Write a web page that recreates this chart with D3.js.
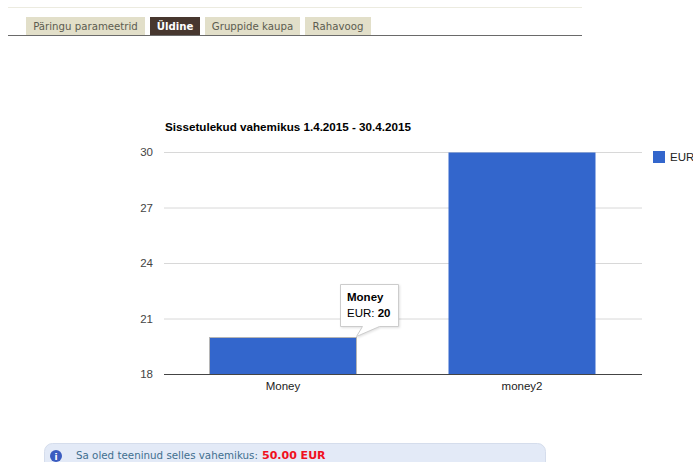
<!DOCTYPE html>
<html><head><meta charset="utf-8">
<script src="https://cdn.jsdelivr.net/npm/d3@7/dist/d3.min.js"></script>
<style>html,body{margin:0;padding:0;background:#fff;overflow:hidden}svg{display:block}</style>
</head><body><svg id="c" width="693" height="462"></svg>
<script>
const categories = ["Money", "money2"];
const eurValues = [20, 30];
const yTicks = [18, 21, 24, 27, 30];
const tabLabels = ["Päringu parameetrid", "Üldine", "Gruppide kaupa", "Rahavoog"];
const tabEdges = [[26,145],[150,200],[205,300],[305,371]];
const activeTab = 1;
const seriesName = "EUR";
const titleText = "Sissetulekud vahemikus 1.4.2015 - 30.4.2015";

const svg = d3.select("#c");
const arial = "Arial, 'Liberation Sans', sans-serif";
const verdana = "Verdana, 'DejaVu Sans', sans-serif";

svg.append("line").attr("x1",8).attr("x2",582).attr("y1",7.5).attr("y2",7.5).attr("stroke","#ecebe0");
tabLabels.forEach((t,i)=>{
  const [a,b]=tabEdges[i];
  svg.append("rect").attr("x",a).attr("y",17).attr("width",b-a).attr("height",18).attr("fill",i===activeTab?"#47372f":"#e2dfc9");
  svg.append("text").attr("x",(a+b)/2).attr("y",30).attr("text-anchor","middle")
    .attr("font-family",verdana).attr("font-size",10.2).attr("font-weight",i===activeTab?"bold":"normal")
    .attr("fill",i===activeTab?"#fff":"#5c5c50").text(t);
});
svg.append("line").attr("x1",8).attr("x2",582).attr("y1",35.5).attr("y2",35.5).attr("stroke","#6a6a6a");

const x = d3.scaleBand().domain(categories).range([163.5,641.5]).paddingInner(0.385).paddingOuter(0.1925);
const y = d3.scaleLinear().domain([18,30]).range([374,152]);

svg.append("text").attr("x",165).attr("y",131).attr("font-family",arial).attr("font-size",11.65).attr("font-weight","bold").attr("fill","#000").text(titleText);

const yAxis = d3.axisLeft(y).tickValues(yTicks).tickSize(-478).tickPadding(11);
const gy = svg.append("g").attr("transform","translate(164,0)").call(yAxis);
gy.select(".domain").remove();
gy.selectAll(".tick line").attr("stroke","#d8d8d8");
gy.selectAll(".tick text").attr("font-family",arial).attr("font-size",11.5).attr("fill","#444");

svg.selectAll("rect.bar").data(categories).join("rect").attr("class","bar")
  .attr("transform","translate(0,0.5)")
  .attr("x",d=>x(d)).attr("width",x.bandwidth())
  .attr("y",(d,i)=>y(eurValues[i])).attr("height",(d,i)=>y(18)-y(eurValues[i]))
  .attr("fill","#3366cc")
  .attr("stroke",(d,i)=>i===0?"#b5b5b5":"none").attr("stroke-width",1);

const xAxis = d3.axisBottom(x).tickSize(0).tickPadding(8);
const gx = svg.append("g").attr("transform","translate(0,374)").call(xAxis);
gx.select(".domain").attr("stroke","#444");
gx.selectAll(".tick text").attr("font-family",arial).attr("font-size",11.5).attr("fill","#222");

// legend
svg.append("rect").attr("x",653).attr("y",151).attr("width",12).attr("height",12).attr("fill","#3366cc");
svg.append("text").attr("x",670).attr("y",161).attr("font-family",arial).attr("font-size",11.5).attr("fill","#222").text(seriesName);

// tooltip
const bx = x(categories[0])+x.bandwidth(), by = y(eurValues[0]);
svg.append("path").attr("d",`M340.5,284.5H398.5V326.5H${bx+23}L${bx},${by-0.5}L${bx+6},326.5H340.5Z`)
  .attr("fill","#fff").attr("stroke","#ccc").style("filter","drop-shadow(1px 1px 1px rgba(0,0,0,.12))");
svg.append("text").attr("x",347).attr("y",301).attr("font-family",arial).attr("font-size",11.5).attr("font-weight","bold").attr("fill","#000").text(categories[0]);
const tt=svg.append("text").attr("x",347).attr("y",317).attr("font-family",arial).attr("font-size",11.5).attr("fill","#000");
tt.append("tspan").text(seriesName+": ");
tt.append("tspan").attr("font-weight","bold").text(eurValues[0]);

// info box
svg.append("rect").attr("x",44.5).attr("y",443.5).attr("width",501).attr("height",30).attr("rx",8).attr("fill","#e3eaf7").attr("stroke","#d5ddec");
svg.append("circle").attr("cx",56).attr("cy",456).attr("r",6).attr("fill","#3a5cc0");
svg.append("text").attr("x",56).attr("y",459.5).attr("text-anchor","middle").attr("font-family",verdana).attr("font-size",9).attr("font-weight","bold").attr("fill","#fff").text("i");
svg.append("text").attr("x",76).attr("y",459).attr("font-family",verdana).attr("font-size",10.3).attr("fill","#3f6f8f").text("Sa oled teeninud selles vahemikus:");
svg.append("text").attr("x",262).attr("y",459).attr("font-family",verdana).attr("font-size",11).attr("font-weight","bold").attr("fill","#f01020").text("50.00 EUR");
</script></body></html>
